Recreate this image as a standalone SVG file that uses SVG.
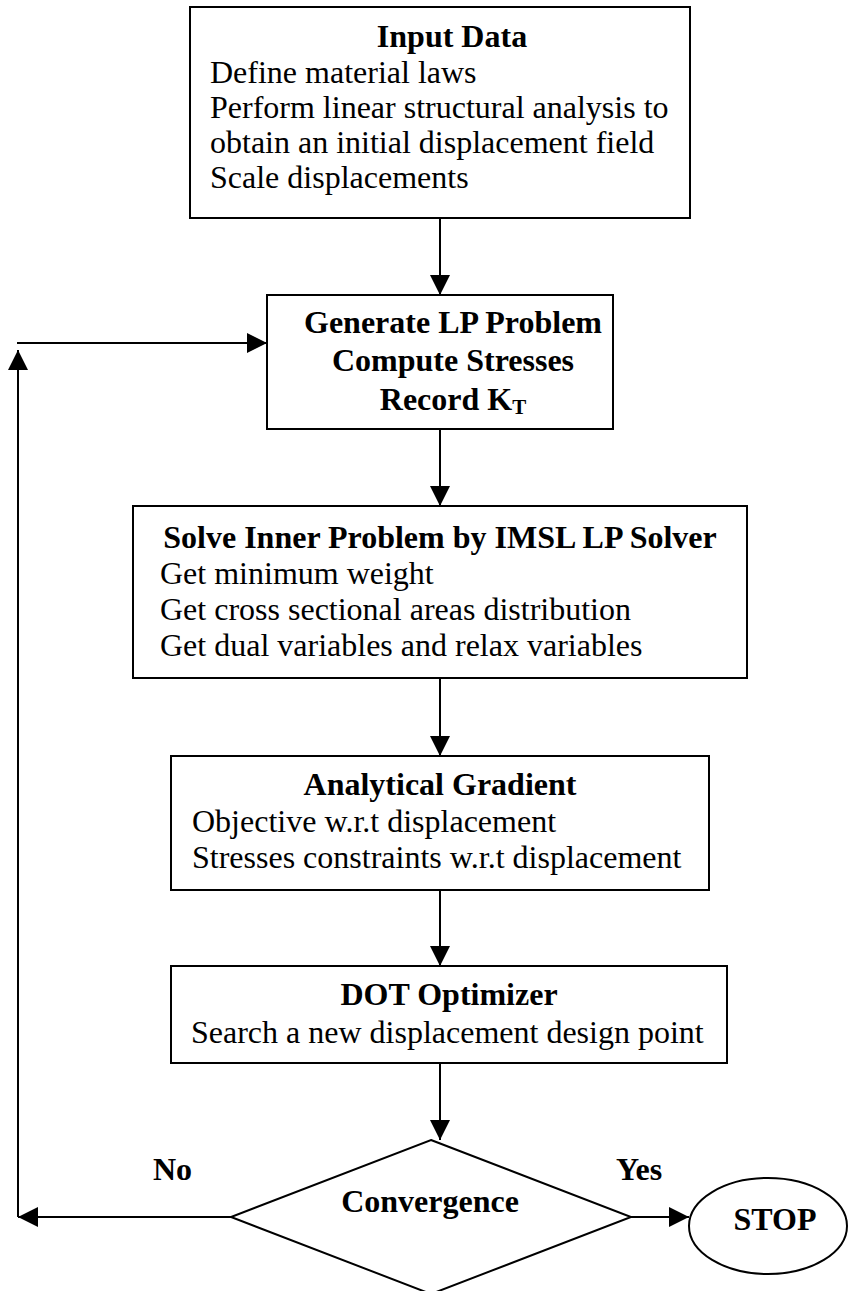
<svg xmlns="http://www.w3.org/2000/svg" width="851" height="1291" viewBox="0 0 851 1291">
  <style>
    .box { fill: #fff; stroke: #000; stroke-width: 2; }
    .ln { fill: none; stroke: #000; stroke-width: 2; }
    text { font-family: "Liberation Serif", "Times New Roman", serif; font-size: 32px; fill: #000; }
    .b { font-weight: bold; }
    .c { text-anchor: middle; }
  </style>
  <defs>
    <marker id="ah" viewBox="0 0 20 20" refX="20" refY="10" markerWidth="20" markerHeight="20" markerUnits="userSpaceOnUse" orient="auto">
      <path d="M0,0 L20,10 L0,20 Z" fill="#000"/>
    </marker>
  </defs>
  <rect width="851" height="1291" fill="#fff"/>

  <!-- connectors -->
  <g id="connectors">
    <line class="ln" x1="440" y1="218" x2="440" y2="295" marker-end="url(#ah)"/>
    <line class="ln" x1="440" y1="429" x2="440" y2="506" marker-end="url(#ah)"/>
    <line class="ln" x1="440" y1="678" x2="440" y2="756" marker-end="url(#ah)"/>
    <line class="ln" x1="440" y1="890" x2="440" y2="966" marker-end="url(#ah)"/>
    <line class="ln" x1="440" y1="1063" x2="440" y2="1140" marker-end="url(#ah)"/>
    <!-- No branch back to the LP step -->
    <line class="ln" x1="231" y1="1217" x2="18" y2="1217" marker-end="url(#ah)"/>
    <line class="ln" x1="18" y1="1217" x2="18" y2="350" marker-end="url(#ah)"/>
    <line class="ln" x1="17" y1="343" x2="267" y2="343" marker-end="url(#ah)"/>
    <!-- Yes branch -->
    <line class="ln" x1="631" y1="1217" x2="689" y2="1217" marker-end="url(#ah)"/>
  </g>

  <g id="input-data">
    <rect class="box" x="190" y="7" width="500" height="211"/>
    <text class="b c" x="452" y="47">Input Data</text>
    <text x="210" y="83">Define material laws</text>
    <text x="210" y="118">Perform linear structural analysis to</text>
    <text x="210" y="153">obtain an initial displacement field</text>
    <text x="210" y="188">Scale displacements</text>
  </g>

  <g id="generate-lp">
    <rect class="box" x="267" y="295" width="346" height="134"/>
    <text class="b c" x="453" y="333">Generate LP Problem</text>
    <text class="b c" x="453" y="371">Compute Stresses</text>
    <text class="b c" x="453" y="410">Record K<tspan font-size="21" dy="4">T</tspan></text>
  </g>

  <g id="solve-inner">
    <rect class="box" x="133" y="506" width="614" height="172"/>
    <text class="b c" x="440" y="548">Solve Inner Problem by IMSL LP Solver</text>
    <text x="160" y="584">Get minimum weight</text>
    <text x="160" y="620">Get cross sectional areas distribution</text>
    <text x="160" y="656">Get dual variables and relax variables</text>
  </g>

  <g id="analytical-gradient">
    <rect class="box" x="171" y="756" width="538" height="134"/>
    <text class="b c" x="440" y="795">Analytical Gradient</text>
    <text x="192" y="832">Objective w.r.t displacement</text>
    <text x="192" y="868">Stresses constraints w.r.t displacement</text>
  </g>

  <g id="dot-optimizer">
    <rect class="box" x="171" y="966" width="556" height="97"/>
    <text class="b c" x="449" y="1005">DOT Optimizer</text>
    <text x="191" y="1043">Search a new displacement design point</text>
  </g>

  <g id="convergence">
    <polygon class="box" points="431,1140 631,1217 431,1294 231,1217"/>
    <text class="b c" x="430" y="1212">Convergence</text>
  </g>

  <g id="stop">
    <ellipse class="box" cx="768" cy="1226" rx="79" ry="48"/>
    <text class="b c" x="775" y="1230">STOP</text>
  </g>

  <g id="branch-labels">
    <text class="b" x="153" y="1180">No</text>
    <text class="b" x="616" y="1180">Yes</text>
  </g>
</svg>
